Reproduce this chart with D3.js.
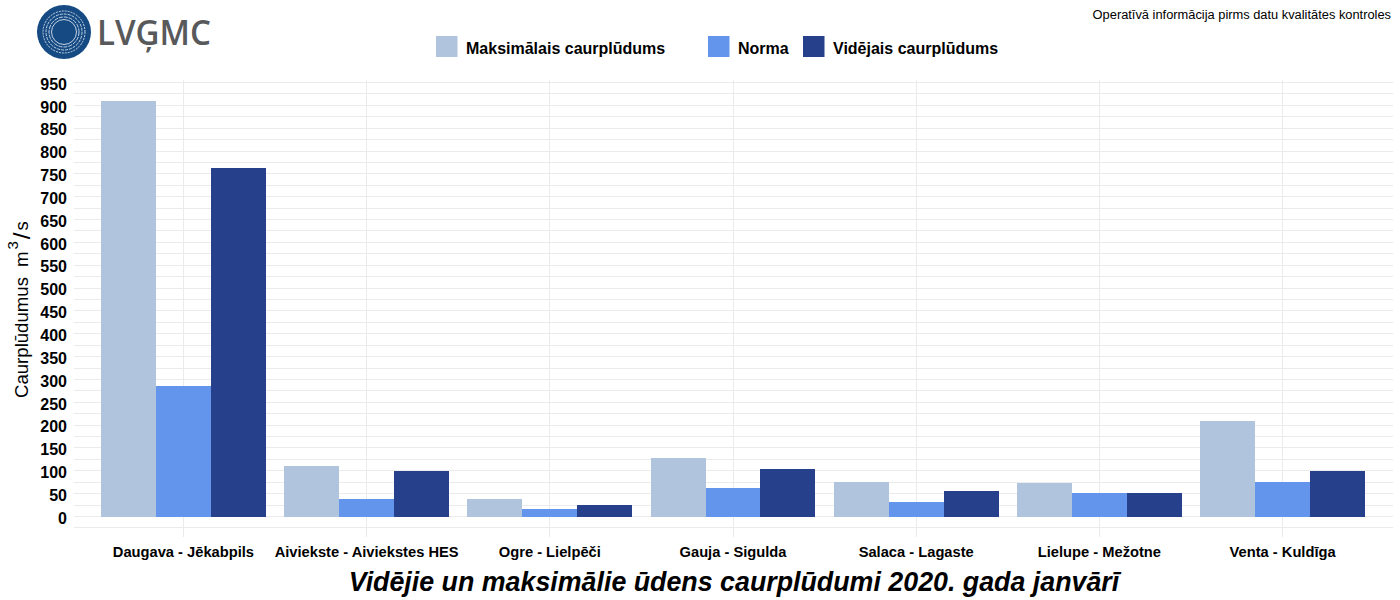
<!DOCTYPE html>
<html><head><meta charset="utf-8">
<script src="https://cdnjs.cloudflare.com/ajax/libs/d3/7.8.5/d3.min.js"></script>
<style>html,body{margin:0;padding:0;background:#fff}svg{display:block}text{font-family:"Liberation Sans",Arial,sans-serif;fill:#000}</style>
</head><body><svg id="c" width="1400" height="600"></svg>
<script>
const categories=["Daugava - Jēkabpils","Aiviekste - Aiviekstes HES","Ogre - Lielpēči","Gauja - Sigulda","Salaca - Lagaste","Lielupe - Mežotne","Venta - Kuldīga"];
const seriesNames=["Maksimālais caurplūdums","Norma","Vidējais caurplūdums"];
const maxFlow=[910,111,38,127,75,73,209];
const normFlow=[285,38,16,63,32,51,75];
const avgFlow=[762,100,25,104,56,51,100];
const colors=["#b0c4de","#6495ed","#27408b"];
const yTicks=d3.range(0,951,50);
const yMinor=d3.range(-25,976,50);

const svg=d3.select("#c");
const L=73.5,R=1392.5,T=80,B=537;
const y=d3.scaleLinear().domain([0,950]).range([516.5,82.5]);
const x=d3.scaleBand().domain(categories).range([L,R]).paddingInner(0).paddingOuter(0.1);
const inner=d3.scaleBand().domain([0,1,2]).range([0,x.bandwidth()*0.9]);

const grid="#ebebeb";
const g=svg.append("g").attr("shape-rendering","crispEdges");
g.selectAll(".ym").data(yMinor.filter(v=>y(v)>T&&y(v)<B)).join("line").attr("x1",L).attr("x2",R)
 .attr("y1",d=>y(d)).attr("y2",d=>y(d)).attr("stroke",grid).attr("stroke-width",1);
g.selectAll(".yM").data(yTicks).join("line").attr("x1",L).attr("x2",R)
 .attr("y1",d=>y(d)).attr("y2",d=>y(d)).attr("stroke",grid).attr("stroke-width",1);
g.selectAll(".xM").data(categories).join("line").attr("x1",d=>x(d)+x.bandwidth()/2).attr("x2",d=>x(d)+x.bandwidth()/2)
 .attr("y1",T).attr("y2",B).attr("stroke",grid).attr("stroke-width",1);

[maxFlow,normFlow,avgFlow].forEach((vals,s)=>{
  svg.append("g").attr("shape-rendering","crispEdges").selectAll("rect").data(vals).join("rect")
    .attr("x",(d,i)=>x(categories[i])+x.bandwidth()*0.05+inner(s))
    .attr("width",inner.bandwidth())
    .attr("y",d=>y(d)).attr("height",d=>y(0)-y(d)).attr("fill",colors[s]);
});

const ya=svg.append("g").attr("transform",`translate(${L-0.5},0)`).call(d3.axisLeft(y).tickValues(yTicks).tickSize(0).tickPadding(6));
ya.select(".domain").remove();
ya.selectAll("text").style("font-family",'"Liberation Sans",Arial,sans-serif').style("font-size","16px").style("font-weight","bold").attr("dy","0.42em");
const xa=svg.append("g").attr("transform",`translate(0,${B})`).call(d3.axisBottom(x).tickSize(0).tickPadding(10));
xa.select(".domain").remove();
xa.selectAll("text").style("font-family",'"Liberation Sans",Arial,sans-serif').style("font-size","14.7px").style("font-weight","bold");

// axis title
const yt=svg.append("text").attr("transform","translate(28,398) rotate(-90)").style("font-size","18.6px");
yt.append("tspan").text("Caurplūdumus");
yt.append("tspan").text("m").attr("dx",10);
yt.append("tspan").text("3").attr("dy",-10).attr("dx",2).style("font-size","15px");
yt.append("tspan").text("/").attr("dy",12).attr("dx",2).style("font-size","24px");
yt.append("tspan").text("s").attr("dy",-2).attr("dx",2);

svg.append("text").attr("x",734).attr("y",591).attr("text-anchor","middle").style("font-size","26.8px").style("font-weight","bold").style("font-style","italic").text("Vidējie un maksimālie ūdens caurplūdumi 2020. gada janvārī");
svg.append("text").attr("x",1391).attr("y",19).attr("text-anchor","end").style("font-size","12.85px").text("Operatīvā informācija pirms datu kvalitātes kontroles");

// legend
const legX=[436,708,803];
seriesNames.forEach((n,i)=>{
  svg.append("rect").attr("x",legX[i]).attr("y",36).attr("width",21.5).attr("height",21).attr("fill",colors[i]);
  svg.append("text").attr("x",legX[i]+30).attr("y",53.5).style("font-size","16px").style("font-weight","bold").text(n);
});

// logo
const logo=svg.append("g");
logo.append("circle").attr("cx",64).attr("cy",32).attr("r",27).attr("fill","#164a83");
[[21,"2 1"],[18,"3 1"],[15,"4 1"],[12.5,"none"]].forEach(([r,da])=>{
  logo.append("circle").attr("cx",64).attr("cy",32).attr("r",r).attr("fill","none").attr("stroke","#d5e1ee").attr("stroke-width",.9).attr("stroke-dasharray",da);
});
logo.append("text").attr("x",97).attr("y",45).style("font-family",'"Open Sans",sans-serif').style("font-weight","600").style("font-size","35px").style("fill","#58595b").attr("textLength",114).attr("lengthAdjust","spacingAndGlyphs").text("LVĢMC");
</script></body></html>
